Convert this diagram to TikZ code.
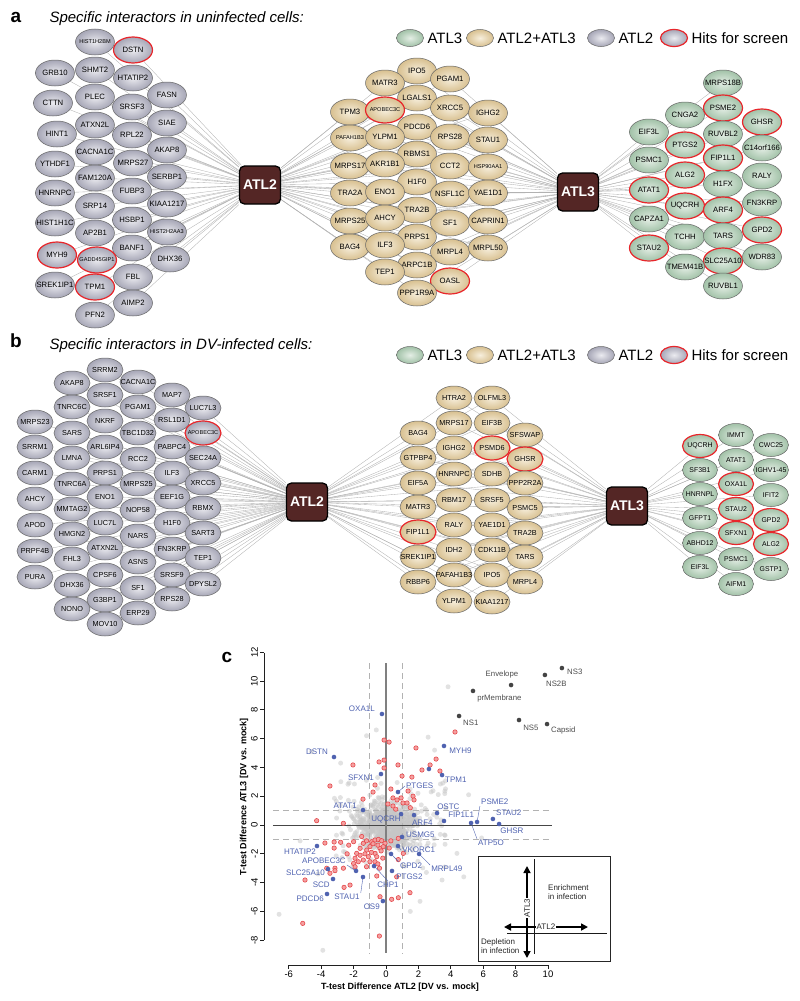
\documentclass[tikz,border=0pt]{standalone}
\usepackage{fontspec}
\setmainfont{Liberation Sans}
\usetikzlibrary{shapes.geometric,backgrounds,arrows.meta}

\definecolor{hubbrown}{HTML}{542625}
\definecolor{grayout}{HTML}{A6A6B6}
\definecolor{grayin}{HTML}{EBEBF0}
\definecolor{tanout}{HTML}{D8C090}
\definecolor{tanin}{HTML}{F7EFDD}
\definecolor{greenout}{HTML}{A2C2A8}
\definecolor{greenin}{HTML}{E4EEE5}
\definecolor{hitred}{HTML}{E8262B}
\definecolor{rimgray}{HTML}{666666}
\definecolor{ptblue}{HTML}{4F62B0}
\definecolor{ptred}{HTML}{E5484B}
\definecolor{ptpink}{HTML}{F4A0A0}
\definecolor{virus}{HTML}{444444}

\newcommand\protfont{\fontsize{7.7}{8}\selectfont}
\newcommand\protfontb{\fontsize{7.3}{8}\selectfont}
\newcommand\protfontc{\fontsize{6.9}{7}\selectfont}
\newcommand\tinyprotfont{\fontsize{5.6}{6}\selectfont}

\tikzset{
  prot/.style={ellipse, draw=rimgray, line width=0.5pt, inner sep=0pt, shading=radial},
  grayp/.style={prot, inner color=grayin, outer color=grayout},
  tanp/.style={prot, inner color=tanin, outer color=tanout},
  greenp/.style={prot, inner color=greenin, outer color=greenout},
  sizeA/.style={minimum width=39pt, minimum height=26pt, font=\protfont},
  sizeB/.style={minimum width=36pt, minimum height=24pt, font=\protfontb},
  sizeC/.style={minimum width=35pt, minimum height=23pt, font=\protfontc},
  rimn/.style={},
  rimh/.style={draw=hitred, line width=1.2pt},
  rims/.style={font=\tinyprotfont},
  rimhs/.style={rimh, rims},
  hub/.style={rectangle, rounded corners=5pt, fill=hubbrown, draw=black, line width=1.3pt,
    minimum width=41pt, minimum height=38pt, text=white, font=\fontsize{14}{14}\selectfont\bfseries},
  edge/.style={gray!60, line width=0.35pt},
  legendp/.style={minimum width=27pt, minimum height=17pt},
  legendtext/.style={anchor=west, font=\fontsize{15}{15}\selectfont},
  panel/.style={anchor=base, font=\fontsize{19}{19}\selectfont\bfseries},
  heading/.style={anchor=base west, font=\fontsize{15}{15}\selectfont\itshape},
  axis/.style={gray!25!black, line width=0.8pt},
  ticklab/.style={font=\fontsize{9.5}{10}\selectfont, inner sep=1pt},
  axistitle/.style={font=\fontsize{9}{10}\selectfont\bfseries},
  dashline/.style={gray!60, line width=0.7pt, dash pattern=on 6pt off 4pt},
  cloud/.style={gray!45, opacity=0.5},
  redpt/.style={fill=ptpink, draw=ptred, line width=0.6pt},
  bluept/.style={fill=ptblue},
  bluelab/.style={text=ptblue, font=\fontsize{8}{8}\selectfont, inner sep=1pt},
  viruslab/.style={text=gray!60!black, font=\fontsize{7.8}{8}\selectfont, inner sep=1pt},
  leader/.style={ptblue, line width=0.4pt},
  bigarrow/.style={black, line width=1.6pt, -{Triangle[width=7pt,length=7pt]}},
  insettext/.style={text=gray!30!black, font=\fontsize{8}{9.5}\selectfont, align=left, inner sep=0pt}
}

\begin{document}
\begin{tikzpicture}[x=1pt, y=-1pt]
\useasboundingbox (0,0) rectangle (800,1001);

% ---------------- panel a ----------------
\node[panel] (aTag) at (16,23) {a};
\node[heading] (aTitle) at (46,23) {Specific interactors in uninfected cells:};
% legend
\node[greenp, legendp] (aLegGn) at (410,38) {};
\node[legendtext] (aLegGnT) at (424,38) {ATL3};
\node[tanp, legendp] (aLegTn) at (480,38) {};
\node[legendtext] (aLegTnT) at (494,38) {ATL2+ATL3};
\node[grayp, legendp] (aLegGr) at (601,38) {};
\node[legendtext] (aLegGrT) at (615,38) {ATL2};
\node[grayp, legendp, rimh] (aLegHit) at (674,38) {};
\node[legendtext] (aLegHitT) at (688,38) {Hits for screen};

\node[hub] (aHubTwo) at (260,185) {ATL2};
\node[hub] (aHubThree) at (578,192) {ATL3};

% ATL2 only
\foreach \gn/\px/\py/\f [count=\i] in {HIST1H2BM/95/42/s, DSTN/133/50/h, GRB10/55/73/n,
  SHMT2/95/70/n, HTATIP2/133/78/n, FASN/167/95/n, CTTN/53/103/n, PLEC/95/97/n,
  SRSF3/132/107/n, SIAE/167/123/n, HINT1/57/134/n, ATXN2L/95/125/n, RPL22/132/135/n,
  AKAP8/167/150/n, YTHDF1/55/164/n, CACNA1C/95/152/n, MRPS27/133/163/n, SERBP1/167/177/n,
  HNRNPC/55/193/n, FAM120A/95/178/n, FUBP3/132/191/n, KIAA1217/167/204/n,
  HIST1H1C/55/223/n, SRP14/95/206/n, HSBP1/132/220/n, HIST2H2AA3/167/232/s,
  MYH9/57/255/h, AP2B1/95/233/n, BANF1/132/248/n, DHX36/170/259/n, GADD45GIP1/97/260/hs,
  FBL/133/277/n, SREK1IP1/55/285/n, TPM1/95/287/h, AIMP2/133/303/n, PFN2/95/315/n}
  \node[grayp, sizeA, rim\f] (aGr\i) at (\px,\py) {\makebox[0pt]{\gn}};
% ATL2 + ATL3
\foreach \gn/\px/\py/\f [count=\i] in {IPO5/417/71/n, MATR3/385/83/n, PGAM1/450/79/n,
  LGALS1/417/98/n, TPM3/350/112/n, APOBEC3C/385/110/hs, XRCC5/450/108/n, IGHG2/488/113/n,
  PDCD6/417/127/n, PAFAH1B3/350/138/s, YLPM1/385/137/n, RPS28/450/137/n, STAU1/488/140/n,
  RBMS1/417/154/n, MRPS17/350/166/n, AKR1B1/385/164/n, CCT2/450/166/n, HSP90AA1/488/167/s,
  H1F0/417/182/n, TRA2A/350/193/n, ENO1/385/192/n, NSFL1C/450/194/n, YAE1D1/488/193/n,
  TRA2B/417/210/n, MRPS25/350/221/n, AHCY/385/218/n, SF1/450/223/n, CAPRIN1/488/221/n,
  PRPS1/417/237/n, BAG4/350/247/n, ILF3/385/245/n, MRPL4/450/252/n, MRPL50/488/248/n,
  ARPC1B/417/265/n, TEP1/385/272/n, OASL/450/281/h, PPP1R9A/417/293/n}
  \node[tanp, sizeA, rim\f] (aTn\i) at (\px,\py) {\makebox[0pt]{\gn}};
% ATL3 only
\foreach \gn/\px/\py/\f [count=\i] in {MRPS18B/723/83/n, CNGA2/685/115/n, PSME2/723/108/h,
  GHSR/762/122/h, EIF3L/649/132/n, RUVBL2/723/134/n, PTGS2/685/145/h, C14orf166/762/148/n,
  PSMC1/649/160/n, FIP1L1/723/158/h, ALG2/685/175/h, RALY/762/176/n, H1FX/723/184/n,
  ATAT1/649/190/h, FN3KRP/762/203/n, UQCRH/685/206/h, ARF4/723/210/h, CAPZA1/649/219/n,
  TCHH/685/237/n, TARS/723/236/n, GPD2/762/230/h, STAU2/649/248/h, SLC25A10/723/261/h,
  WDR83/762/257/n, TMEM41B/685/267/n, RUVBL1/723/286/n}
  \node[greenp, sizeA, rim\f] (aGn\i) at (\px,\py) {\makebox[0pt]{\gn}};

\begin{scope}[on background layer]
  \foreach \i in {1,...,36} \draw[edge] (aHubTwo) -- (aGr\i);
  \foreach \i in {1,...,37} {
    \draw[edge] (aHubTwo) -- (aTn\i);
    \draw[edge] (aHubThree) -- (aTn\i);
  }
  \foreach \i in {1,...,26} \draw[edge] (aHubThree) -- (aGn\i);
\end{scope}

% ---------------- panel b ----------------
\node[panel] (bTag) at (16,347) {b};
\node[heading] (bTitle) at (46,349) {Specific interactors in DV-infected cells:};
% legend
\node[greenp, legendp] (bLegGn) at (410,355) {};
\node[legendtext] (bLegGnT) at (424,355) {ATL3};
\node[tanp, legendp] (bLegTn) at (480,355) {};
\node[legendtext] (bLegTnT) at (494,355) {ATL2+ATL3};
\node[grayp, legendp] (bLegGr) at (601,355) {};
\node[legendtext] (bLegGrT) at (615,355) {ATL2};
\node[grayp, legendp, rimh] (bLegHit) at (674,355) {};
\node[legendtext] (bLegHitT) at (688,355) {Hits for screen};

\node[hub] (bHubTwo) at (307,502) {ATL2};
\node[hub] (bHubThree) at (627,506) {ATL3};

% ATL2 only
\foreach \gn/\px/\py/\f [count=\i] in {SRRM2/105/370/n, AKAP8/72/383/n, CACNA1C/138/382/n,
  SRSF1/105/395/n, MAP7/172/395/n, TNRC6C/72/407/n, PGAM1/138/407/n, LUC7L3/203/408/n,
  MRPS23/35/422/n, NKRF/105/421/n, RSL1D1/172/420/n, SARS/72/433/n, TBC1D32/138/433/n,
  APOBEC3C/203/433/hs, SRRM1/35/447/n, ARL6IP4/105/447/n, PABPC4/172/447/n, LMNA/72/458/n,
  RCC2/138/459/n, SEC24A/203/458/n, CARM1/35/473/n, PRPS1/105/473/n, ILF3/172/473/n,
  TNRC6A/72/484/n, MRPS25/138/484/n, XRCC5/203/483/n, AHCY/35/499/n, ENO1/105/497/n,
  EEF1G/172/497/n, MMTAG2/72/509/n, NOP58/138/510/n, RBMX/203/508/n, APOD/35/525/n,
  LUC7L/105/523/n, H1F0/172/523/n, HMGN2/72/534/n, NARS/138/536/n, SART3/203/533/n,
  PRPF4B/35/551/n, ATXN2L/105/548/n, FN3KRP/172/549/n, FHL3/72/559/n, ASNS/138/562/n,
  TEP1/203/558/n, PURA/35/577/n, CPSF6/105/575/n, SRSF9/172/575/n, DHX36/72/585/n,
  SF1/138/588/n, DPYSL2/203/584/n, G3BP1/105/600/n, RPS28/172/599/n, NONO/72/609/n,
  ERP29/138/613/n, MOV10/105/624/n}
  \node[grayp, sizeB, rim\f] (bGr\i) at (\px,\py) {\makebox[0pt]{\gn}};
% ATL2 + ATL3
\foreach \gn/\px/\py/\f [count=\i] in {HTRA2/454/398/n, OLFML3/492/398/n, MRPS17/454/423/n,
  EIF3B/492/423/n, BAG4/418/433/n, SFSWAP/525/435/n, IGHG2/454/448/n, PSMD6/492/448/h,
  GHSR/525/459/h, GTPBP4/418/458/n, HNRNPC/454/474/n, SDHB/492/474/n, PPP2R2A/525/483/n,
  EIF5A/418/483/n, RBM17/454/500/n, SRSF5/492/500/n, MATR3/418/507/n, PSMC5/525/508/n,
  RALY/454/525/n, YAE1D1/492/525/n, FIP1L1/418/532/h, TRA2B/525/533/n, IDH2/454/550/n,
  CDK11B/492/550/n, SREK1IP1/418/557/n, TARS/525/557/n, PAFAH1B3/454/575/n, IPO5/492/575/n,
  RBBP6/418/582/n, MRPL4/525/582/n, YLPM1/454/601/n, KIAA1217/492/602/n}
  \node[tanp, sizeB, rim\f] (bTn\i) at (\px,\py) {\makebox[0pt]{\gn}};
% ATL3 only
\foreach \gn/\px/\py/\f [count=\i] in {IMMT/736/435/n, UQCRH/700/446/h, CWC25/771/445/n,
  ATAT1/736/460/n, SF3B1/700/470/n, IGHV1-45/771/470/n, OXA1L/736/484/h, HNRNPL/700/494/n,
  IFIT2/771/495/n, STAU2/736/509/h, GFPT1/700/518/n, GPD2/771/520/h, SFXN1/736/533/h,
  ABHD12/700/543/n, ALG2/771/544/h, PSMC1/736/559/n, EIF3L/700/567/n, GSTP1/771/569/n,
  AIFM1/736/584/n}
  \node[greenp, sizeC, rim\f] (bGn\i) at (\px,\py) {\makebox[0pt]{\gn}};

\begin{scope}[on background layer]
  \foreach \i in {1,...,55} \draw[edge] (bHubTwo) -- (bGr\i);
  \foreach \i in {1,...,32} {
    \draw[edge] (bHubTwo) -- (bTn\i);
    \draw[edge] (bHubThree) -- (bTn\i);
  }
  \foreach \i in {1,...,19} \draw[edge] (bHubThree) -- (bGn\i);
\end{scope}

% ---------------- panel c ----------------
\node[panel] (cTag) at (227,662) {c};
% axes (pixel units)
\draw[axis] (264,653) -- (264,940);
\foreach \tv [count=\k] in {-8,-6,...,12} {
  \draw[axis] (264,{825-14.4*\tv}) -- ++(-4,0);
  \node[ticklab, rotate=90, anchor=south] (ytick\k) at (259,{825-14.4*\tv}) {\tv};
}
\draw[axis] (289,965) -- (548,965);
\foreach \tu [count=\k] in {-6,-4,...,10} {
  \draw[axis] ({386+16.2*\tu},965) -- ++(0,4);
  \node[ticklab, anchor=north] (xtick\k) at ({386+16.2*\tu},970) {\tu};
}
\node[axistitle] (xTitle) at (400,987) {T-test Difference ATL2 [DV vs. mock]};
\node[axistitle, rotate=90] (yTitle) at (244,797) {T-test Difference ATL3 [DV vs. mock]};

\begin{scope}[shift={(386,825)}, x=16.2pt, y=14.4pt]
  % background cloud of all proteins
  \pgfmathsetseed{11}
  \foreach \i in {1,...,750} {
    \pgfmathsetmacro\pu{0.9*(rand+rand+rand)}
    \pgfmathsetmacro\pv{0.75*(rand+rand+rand)}
    \fill[cloud] (\pu,\pv) circle (2.5pt);
  }
  \foreach \i in {1,...,110} {
    \pgfmathsetmacro\pu{0.3+3.5*rand}
    \pgfmathsetmacro\pv{3.4*rand}
    \fill[cloud] (\pu,\pv) circle (2.5pt);
  }
  \foreach \pu/\pv in {3.83/9.6, -6.6/-6.2, -3.9/-8.7, 3.46/-3.82, 4.38/-1.97, -4.6/5.1,
    5.1/2.1, -1.2/6.2, 2.6/6.1, -5.3/-1.1, 5.9/-0.9, 1.5/-6.0, -0.6/6.6, 3.0/5.2,
    -4.2/-3.4, 4.8/-3.6, -2.8/4.3, 2.1/-5.3}
    \fill[cloud] (\pu,\pv) circle (2.5pt);
  % thresholds
  \draw[dashline] (-1,11.25) -- (-1,-8.9);
  \draw[dashline] (1,11.25) -- (1,-8.9);
  \draw[dashline] (-6.98,1) -- (10.25,1);
  \draw[dashline] (-6.98,-1) -- (10.25,-1);
  \draw[gray!55!black, line width=0.8pt] (-6.98,0) -- (10.25,0);
  \draw[gray, line width=1.2pt] (0,11.25) -- (0,-8.9);
  % significant hits
  \foreach \pu/\pv in {4.26/6.46, -0.12/5.9, 0.19/5.76, 1.85/5.35, 3.09/4.58, 2.72/4.17,
    -2.04/4.17, -0.43/4.38, -0.12/4.51, 0.74/4.17, -0.12/3.96, 2.22/3.82, 3.33/3.75,
    1.6/3.33, 0.99/3.4, -3.46/2.71, -0.68/2.78, -1.42/1.8, -0.8/2.29, 0.12/1.46,
    0.43/1.88, 0.93/1.88, 1.36/2.36, 1.67/2.0, 1.73/1.74, 0.43/1.32, 0.68/1.74,
    1.05/1.53, 1.3/1.53, 0.3/2.5, 1.5/1.2, 0.6/1.1,
    -4.28/0.3, -2.63/0.12, -3.77/-1.25, -3.2/-1.18, -3.2/-1.6, -2.0/-1.16, -1.4/-1.27,
    -0.88/-1.16, -0.68/-1.04, -0.47/-1.0, -0.27/-1.09, -0.06/-1.27, -0.99/-1.5,
    -1.19/-1.74, -1.6/-1.62, -1.81/-1.97, -1.91/-2.31, -1.71/-2.55, -1.4/-2.43,
    -1.09/-2.2, -0.68/-1.97, -0.57/-2.2, -0.37/-1.62, -0.17/-1.5, -0.99/-2.55,
    -0.68/-2.55, -2.0/-2.67, -1.91/-2.9, -3.66/-3.0, -3.15/-3.0, -2.63/-3.0,
    -3.15/-3.17, -3.46/-3.35, -5.0/-3.82, -2.59/-4.33, -2.22/-4.17, -0.57/-3.54,
    0.76/-0.93, 0.76/-2.4, 1.07/-1.97, 0.66/-3.6, -0.37/-4.98, 0.35/-5.16, 0.76/-5.05,
    1.48/-4.7, -0.41/-7.71, -5.14/-6.83, -0.8/-1.3, -0.5/-1.4, -1.2/-1.1, -0.3/-1.8,
    -0.9/-1.9, -1.3/-2.0, -0.2/-2.3, -1.6/-2.1, -0.5/-2.7, -1.2/-2.9, 0.2/-1.6,
    0.3/-1.1, -1.5/-0.8, -2.3/-1.4, -2.4/-2.0, -2.8/-1.2, -0.4/-3.0}
    \filldraw[redpt] (\pu,\pv) circle (2.2pt);
  % labelled hits
  \foreach \gn/\pu/\pv/\lu/\lv/\a in {OXA1L/-0.25/7.71/-0.62/8.06/east,
    DSTN/-3.21/4.72/-3.52/5.07/east, MYH9/3.58/5.49/3.83/5.14/west,
    SFXN1/-0.31/3.54/-0.68/3.26/east, TPM1/3.46/3.47/3.58/3.13/west,
    PTGES/0.74/2.29/1.17/2.71/west, ATAT1/-1.42/1.04/-1.73/1.32/east,
    UQCRH/0.93/0.76/0/0.42/center, OSTC/3.15/0.83/3.09/1.25/west,
    ARF4/1.73/0.69/1.54/0.14/west, FIP1L1/3.58/0.28/3.77/0.69/west,
    PSME2/5.62/0.21/5.8/1.6/west, ATP5O/5.25/0.14/5.62/-1.25/west,
    STAU2/6.6/0.42/6.73/0.83/west, GHSR/6.98/0.07/6.98/-0.42/west,
    USMG5/0.99/-0.83/1.17/-0.69/west, VKORC1/0.74/-1.46/0.93/-1.74/west,
    HTATIP2/-4.26/-1.46/-4.26/-1.87/east, MRPL49/2.04/-2.01/2.72/-3.06/west,
    GPD2/0.31/-2.01/0.8/-2.85/west, APOBEC3C/-1.85/-3.19/-2.41/-2.5/east,
    PTGS2/0.37/-3.19/0.56/-3.61/west, SLC25A10/-3.58/-3.06/-3.7/-3.33/east,
    CHP1/-0.74/-2.85/0.12/-4.17/center, SCD/-3.27/-3.75/-3.4/-4.17/east,
    STAU1/-1.42/-3.61/-2.41/-5.0/center, PDCD6/-3.64/-4.79/-3.77/-5.14/east,
    OS9/-0.19/-5.28/-0.31/-5.69/east} {
    \coordinate (dot\gn) at (\pu,\pv);
    \fill[bluept] (dot\gn) circle (2.3pt);
    \node[bluelab, anchor=\a] (lab\gn) at (\lu,\lv) {\gn};
  }
  \fill[bluept] (2.65,3.89) circle (2.3pt);
  \draw[leader] (dotPTGES) -- (labPTGES.west);
  \draw[leader] (dotPSME2) -- (labPSME2.south west);
  \draw[leader] (dotATP5O) -- (labATP5O.north west);
  \draw[leader] (dotMRPL49) -- (labMRPL49.north west);
  \draw[leader] (dotGPD2) -- (labGPD2.north west);
  \draw[leader] (dotAPOBEC3C) -- (labAPOBEC3C.south east);
  \draw[leader] (dotCHP1) -- (labCHP1.north);
  \draw[leader] (dotSTAU1) -- (labSTAU1.north east);
  \draw[leader] (dotVKORC1) -- (labVKORC1.west);
  % viral proteins
  \foreach \gn/\pu/\pv/\lu/\lv/\a in {NS3/10.86/10.9/11.11/10.63/west,
    NS2B/9.81/10.42/9.81/9.79/west, Envelope/7.72/9.72/7.16/10.42/center,
    prMembrane/5.37/9.31/5.56/8.82/west, NS1/4.51/7.57/4.69/7.08/west,
    NS5/8.21/7.29/8.4/6.74/west, Capsid/9.94/7.01/10.12/6.53/west} {
    \fill[virus] (\pu,\pv) circle (2.3pt);
    \node[viruslab, anchor=\a] (lab\gn) at (\lu,\lv) {\gn};
  }
\end{scope}

% inset legend
\draw[gray!30!black, line width=0.8pt] (478,856) rectangle (610,961);
\draw[gray!20!black, line width=1pt] (534,859) -- (534,954);
\draw[gray!20!black, line width=1pt] (507,933) -- (607,933);
\node[insettext, rotate=90] (insThree) at (527,908) {ATL3};
\node[insettext] (insTwo) at (546,927) {ATL2};
\coordinate (tipUp) at (527,866);
\coordinate (tipDown) at (527,958);
\coordinate (tipLeft) at (504,927);
\coordinate (tipRight) at (588,927);
\draw[bigarrow] (insThree.east) ++(0,-1) -- (tipUp);
\draw[bigarrow] (insThree.west) ++(0,1) -- (tipDown);
\draw[bigarrow] (insTwo.west) ++(-1,0) -- (tipLeft);
\draw[bigarrow] (insTwo.east) ++(1,0) -- (tipRight);
\node[insettext, anchor=north west] (insUp) at (548,884) {Enrichment\\in infection};
\node[insettext, anchor=north west] (insDown) at (481,938) {Depletion\\in infection};
\end{tikzpicture}
\end{document}
